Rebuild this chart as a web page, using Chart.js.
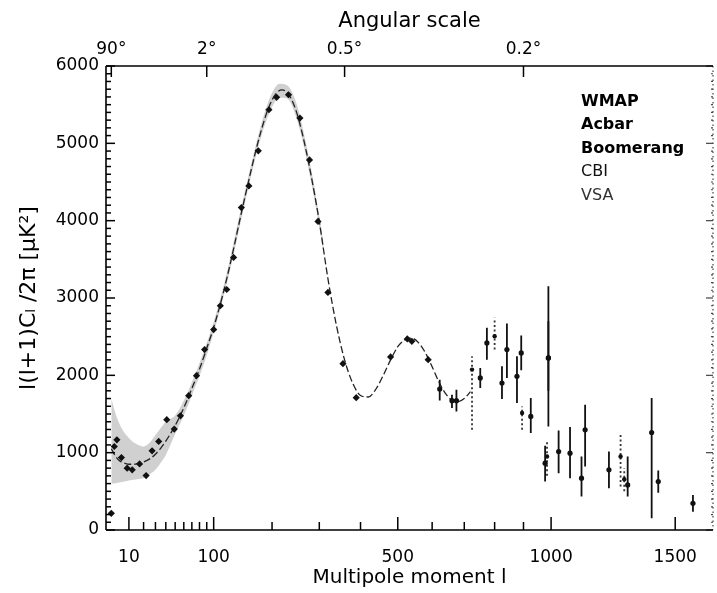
<!DOCTYPE html>
<html><head><meta charset="utf-8">
<script src="https://cdn.jsdelivr.net/npm/chart.js@4.4.1/dist/chart.umd.min.js"></script>
<style>html,body{margin:0;padding:0;background:#fff;}</style>
</head><body>
<canvas id="c" width="717" height="593"></canvas>
<script>
// ---------------- data ----------------
const xTickLabels = [10, 100, 500, 1000, 1500];
const xMinorTicks = [20, 30, 40, 50, 60, 70, 80, 90, 200, 300, 400, 600, 700, 800, 900];
const angleTickDeg = [90, 2, 0.5, 0.2];
const yTicks = [0, 1000, 2000, 3000, 4000, 5000, 6000];
const legendNames = ['WMAP', 'Acbar', 'Boomerang', 'CBI', 'VSA'];

// best-fit model curve
const modelL = [2,3,4,5,6,8,10,13,16,20,25,30,35,40,50,60,70,80,90,100,110,120,130,140,150,160,170,180,190,200,210,220,230,240,250,260,270,280,290,300,320,340,360,380,400,420,440,460,480,500,520,540,560,580,600,620,640,660,680,700,720];
const modelV = [1050,980,930,900,880,860,850,850,860,880,920,980,1060,1150,1350,1580,1830,2080,2350,2620,2920,3250,3600,3960,4300,4620,4920,5180,5400,5560,5660,5690,5660,5560,5400,5180,4920,4630,4320,3990,3250,2650,2200,1900,1740,1720,1820,2000,2200,2370,2460,2480,2420,2290,2110,1920,1770,1680,1660,1700,1790];

// cosmic-variance band
const bandL  = [2,3,4,5,6,8,10,13,16,20,25,30,35,40,50,60,70,85,100,120,140,160,180,200,215,230,250,270,290,310];
const bandHi = [1700,1560,1450,1380,1320,1240,1190,1130,1100,1080,1130,1230,1320,1400,1480,1670,1910,2290,2690,3320,4040,4690,5260,5650,5770,5750,5510,5010,4400,3700];
const bandLo = [600,600,610,615,620,630,640,650,660,670,720,780,870,970,1240,1480,1740,2120,2550,3180,3880,4550,5100,5470,5590,5580,5320,4840,4240,3580];

// WMAP binned points
const wmapL = [2,3,4,6,9,12,17,22,27,33,41,49,56,66,76,87,100,110,120,131,144,157,174,194,209,233,257,278,297,320,356,389,480,527,540,588];
const wmapV = [216,1080,1166,937,800,778,855,704,1024,1145,1426,1305,1477,1737,1996,2333,2592,2900,3110,3525,4169,4449,4903,5434,5595,5628,5327,4786,3990,3072,2151,1711,2238,2471,2440,2203];

// Acbar
const acbarL  = [978,1028,1071,1115,1223,1299,1427,1578];
const acbarV  = [864,1015,994,670,778,583,626,346];
const acbarLo = [626,735,670,432,540,432,483,237];
const acbarHi = [1089,1287,1331,950,1015,950,769,454];

// Boomerang
const boomL  = [623,661,752,774,842,877,926,990];
const boomV  = [1823,1672,1966,2419,2333,1987,1469,2225];
const boomLo = [1676,1577,1836,2203,1966,1642,1253,1800];
const boomHi = [1943,1750,2095,2614,2670,2246,1707,2700];

// CBI
const cbiL  = [675,825,892,990,1129,1399];
const cbiV  = [1672,1901,2290,2225,1296,1261];
const cbiLo = [1533,1694,2065,1339,820,152];
const cbiHi = [1814,2116,2514,3153,1620,1707];

// VSA
const vsaL  = [725,800,895,985,1270,1285];
const vsaV  = [2074,2505,1512,950,950,657];
const vsaLo = [1296,2333,1296,700,561,500];
const vsaHi = [2246,2743,1598,1150,1261,800];

// ---------------- custom power-law axis ----------------
const POW = 0.6;
class PowScale extends Chart.LinearScale {
  determineDataLimits() { this.min = this.options.min; this.max = this.options.max; }
  buildTicks() { return (this.options.tickValues || []).map(v => ({ value: v })); }
  configure() {
    super.configure();
    this._pmin = Math.pow(this.min, POW);
    this._pmax = Math.pow(this.max, POW);
  }
  getPixelForValue(v) {
    if (v === null || v === undefined || isNaN(v)) return NaN;
    return this.getPixelForDecimal((Math.pow(v, POW) - this._pmin) / (this._pmax - this._pmin));
  }
  getValueForPixel(p) {
    const d = this.getDecimalForPixel(p);
    return Math.pow(this._pmin + d * (this._pmax - this._pmin), 1 / POW);
  }
}
PowScale.id = 'pow';
PowScale.defaults = { ticks: { callback: v => String(v) } };
Chart.register(PowScale);

// ---------------- helpers ----------------
const pts = (L, V) => L.map((l, i) => ({ x: l, y: V[i] }));
const bars = (L, lo, hi) => {
  const out = [];
  L.forEach((l, i) => { out.push({ x: l, y: lo[i] }, { x: l, y: hi[i] }, { x: l, y: null }); });
  return out;
};
const barSet = (label, L, lo, hi, dash, color) => ({
  type: 'line', label, data: bars(L, lo, hi), borderColor: color || '#111', borderWidth: 1.8,
  borderDash: dash || [], pointRadius: 0, spanGaps: false, tension: 0, fill: false, order: 5
});
const dotSet = (label, L, V, r, style) => ({
  type: 'line', label, data: pts(L, V), showLine: false, pointStyle: style || 'circle',
  pointRadius: r, pointBackgroundColor: '#111', pointBorderColor: '#111', pointBorderWidth: 0, order: 1
});

// ---------------- plugins ----------------
const frameTicks = {
  id: 'frameTicks',
  afterDatasetsDraw(chart) {
    const ctx = chart.ctx, a = chart.chartArea, sx = chart.scales.x, sy = chart.scales.y;
    const line = (x1, y1, x2, y2) => { ctx.beginPath(); ctx.moveTo(x1, y1); ctx.lineTo(x2, y2); ctx.stroke(); };
    ctx.save();
    ctx.strokeStyle = '#000'; ctx.lineWidth = 1.5; ctx.lineCap = 'butt';
    xTickLabels.forEach(v => { const p = sx.getPixelForValue(v); line(p, a.bottom, p, a.bottom - 13); });
    xMinorTicks.forEach(v => { const p = sx.getPixelForValue(v); line(p, a.bottom, p, a.bottom - 8); });
    angleTickDeg.forEach(d => { const p = sx.getPixelForValue(180 / d); line(p, a.top, p, a.top + 11); });
    for (let v = 0; v <= 6000; v += 100) {
      const p = sy.getPixelForValue(v);
      line(a.left, p, a.left + (v % 1000 === 0 ? 9 : 5), p);
    }
    // right axis (faint, dotted)
    ctx.strokeStyle = '#444'; ctx.lineWidth = 1.2;
    for (let v = 0; v <= 6000; v += 100) {
      const p = sy.getPixelForValue(v);
      if (v % 1000 === 0) line(a.right, p, a.right - 7, p);
      else line(a.right, p, a.right - 2, p);
    }
    ctx.setLineDash([1.5, 3]);
    line(a.right, a.top, a.right, a.bottom);
    ctx.setLineDash([]);
    // frame
    ctx.strokeStyle = '#000'; ctx.lineWidth = 1.6;
    line(a.left, a.top, a.right, a.top);
    line(a.left, a.bottom, a.right, a.bottom);
    line(a.left, a.top, a.left, a.bottom);
    // legend text
    const ly = [102, 125, 149, 172, 196];
    const lw = ['bold', 'bold', 'bold', 'normal', 'normal'];
    const lc = ['#000', '#000', '#000', '#111', '#333'];
    ctx.textAlign = 'left'; ctx.textBaseline = 'middle';
    legendNames.forEach((n, i) => {
      ctx.font = lw[i] + ' 16px "DejaVu Sans"';
      ctx.fillStyle = lc[i];
      ctx.fillText(n, 581, ly[i]);
    });
    ctx.restore();
  }
};

// ---------------- chart ----------------
Chart.defaults.font.family = '"DejaVu Sans", sans-serif';
Chart.defaults.color = '#000';

new Chart(document.getElementById('c'), {
  type: 'line',
  data: {
    datasets: [
      { type: 'line', label: 'band hi', data: pts(bandL, bandHi), borderWidth: 0, pointRadius: 0, order: 20,
        backgroundColor: 'rgba(200,200,200,0.85)', fill: '+1', cubicInterpolationMode: 'monotone' },
      { type: 'line', label: 'band lo', data: pts(bandL, bandLo), borderWidth: 0, pointRadius: 0, order: 21,
        fill: false, cubicInterpolationMode: 'monotone' },
      { type: 'line', label: 'model', data: pts(modelL, modelV), borderColor: '#222', borderWidth: 1.3, order: 10,
        borderDash: [7, 3], pointRadius: 0, fill: false, cubicInterpolationMode: 'monotone' },
      barSet('Acbar err', acbarL, acbarLo, acbarHi),
      barSet('Boomerang err', boomL, boomLo, boomHi),
      barSet('CBI err', cbiL, cbiLo, cbiHi),
      barSet('VSA err', vsaL, vsaLo, vsaHi, [2, 2.5], '#333'),
      dotSet('WMAP', wmapL, wmapV, 3.6, 'rectRot'),
      dotSet('Acbar', acbarL, acbarV, 2.6),
      dotSet('Boomerang', boomL, boomV, 2.6),
      dotSet('CBI', cbiL, cbiV, 2.6),
      dotSet('VSA', vsaL, vsaV, 2.2)
    ]
  },
  options: {
    responsive: false, animation: false, devicePixelRatio: 1,
    layout: { padding: 0 },
    plugins: { legend: { display: false }, tooltip: { enabled: false } },
    scales: {
      x: {
        type: 'pow', position: 'bottom', min: 0.65, max: 1668, tickValues: xTickLabels,
        grid: { display: false, drawTicks: false }, border: { display: false },
        ticks: { autoSkip: false, maxRotation: 0, padding: 17, font: { size: 17 }, callback: (v, i) => String(xTickLabels[i]) },
        title: { display: true, text: 'Multipole moment l', font: { size: 20 }, padding: { top: 0, bottom: 3 } },
        afterFit: s => { s.height = 63; }
      },
      x2: {
        type: 'pow', position: 'top', min: 0.65, max: 1668, tickValues: angleTickDeg.map(d => 180 / d),
        grid: { display: false, drawTicks: false }, border: { display: false },
        ticks: { autoSkip: false, maxRotation: 0, padding: 6, font: { size: 17 }, callback: (v, i) => angleTickDeg[i] + '°' },
        title: { display: true, text: 'Angular scale', font: { size: 21 }, padding: { top: 9, bottom: 0 } },
        afterFit: s => { s.height = 66; }
      },
      y: {
        type: 'linear', position: 'left', min: 0, max: 6000,
        grid: { display: false, drawTicks: false }, border: { display: false },
        ticks: { stepSize: 1000, padding: 7, font: { size: 17 }, callback: v => String(v) },
        title: { display: true, text: 'l(l+1)Cₗ /2π [μK²]', font: { size: 22 }, padding: { top: 16, bottom: 0 } },
        afterFit: s => { s.width = 106; }
      },
      y2: {
        type: 'linear', position: 'right', min: 0, max: 6000,
        grid: { display: false }, border: { display: false },
        ticks: { display: false },
        afterFit: s => { s.width = 2; }
      }
    }
  },
  plugins: [frameTicks]
});
</script>
</body></html>
